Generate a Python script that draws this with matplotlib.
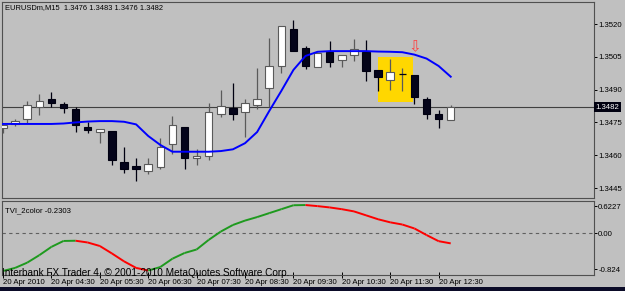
import matplotlib
matplotlib.use("Agg")
import matplotlib.pyplot as plt
from matplotlib.patches import Rectangle
import matplotlib.transforms as mtransforms
import numpy as np

# ---------------- data ----------------
opens = [1.34726, 1.34741, 1.34764, 1.34819, 1.34857, 1.34833, 1.34810, 1.34729, 1.34708, 1.34711,
         1.34570, 1.34551, 1.34528, 1.34548, 1.34650, 1.34728, 1.34586, 1.34596, 1.34788, 1.34817,
         1.34798, 1.34828, 1.34906, 1.35008, 1.35179, 1.35089, 1.35005, 1.35073, 1.35037, 1.35058,
         1.35073, 1.34988, 1.34944, 1.34970, 1.34967, 1.34857, 1.34788, 1.34760]
highs = [1.34738, 1.34767, 1.34849, 1.34879, 1.34889, 1.34842, 1.34819, 1.34753, 1.34720, 1.34711,
         1.34639, 1.34586, 1.34586, 1.34677, 1.34779, 1.34728, 1.34627, 1.34840, 1.34898, 1.34932,
         1.34856, 1.34997, 1.35136, 1.35191, 1.35218, 1.35099, 1.35069, 1.35122, 1.35057, 1.35130,
         1.35127, 1.34988, 1.35039, 1.35000, 1.34967, 1.34868, 1.34807, 1.34830]
lows = [1.34700, 1.34735, 1.34749, 1.34784, 1.34822, 1.34792, 1.34705, 1.34703, 1.34655, 1.34554,
        1.34520, 1.34482, 1.34513, 1.34536, 1.34604, 1.34536, 1.34555, 1.34578, 1.34773, 1.34761,
        1.34685, 1.34813, 1.34819, 1.34975, 1.35075, 1.34993, 1.35005, 1.35005, 1.35005, 1.35032,
        1.34941, 1.34894, 1.34898, 1.34895, 1.34834, 1.34764, 1.34723, 1.34760]
closes = [1.34738, 1.34755, 1.34830, 1.34849, 1.34837, 1.34817, 1.34738, 1.34715, 1.34720, 1.34578,
          1.34536, 1.34536, 1.34558, 1.34639, 1.34738, 1.34586, 1.34598, 1.34796, 1.34826, 1.34787,
          1.34837, 1.34856, 1.35008, 1.35191, 1.35075, 1.35008, 1.35069, 1.35028, 1.35057, 1.35086,
          1.34986, 1.34956, 1.34979, 1.34970, 1.34868, 1.34787, 1.34766, 1.34820]
ma_values = [1.34743, 1.34743, 1.34743, 1.34743, 1.34743, 1.34745, 1.34750, 1.34754, 1.34756, 1.34756,
             1.34753, 1.34741, 1.34688, 1.34647, 1.34616, 1.34616, 1.34616, 1.34616, 1.34619, 1.34627,
             1.34655, 1.34706, 1.34802, 1.34894, 1.34990, 1.35054, 1.35073, 1.35076, 1.35076, 1.35076,
             1.35076, 1.35074, 1.35073, 1.35071, 1.35060, 1.35042, 1.35008, 1.34959]
tvi_values = [-0.86, -0.79, -0.67, -0.50, -0.31, -0.175, -0.17, -0.21, -0.29, -0.46,
              -0.64, -0.79, -0.85, -0.77, -0.58, -0.45, -0.37, -0.15, 0.04, 0.19,
              0.29, 0.37, 0.46, 0.55, 0.64, 0.645, 0.62, 0.59, 0.55, 0.50,
              0.41, 0.32, 0.25, 0.20, 0.11, -0.04, -0.18, -0.2303]
time_tick_idx = [0, 4, 8, 12, 16, 20, 24, 28, 32, 36]
time_tick_labels = ["20 Apr 2010", "20 Apr 04:30", "20 Apr 05:30", "20 Apr 06:30", "20 Apr 07:30",
                    "20 Apr 08:30", "20 Apr 09:30", "20 Apr 10:30", "20 Apr 11:30", "20 Apr 12:30"]
price_ticks = [1.3445, 1.3460, 1.3475, 1.3490, 1.3505, 1.3520]
tvi_ticks = [-0.824, 0.0, 0.6227]
tvi_tick_labels = ["-0.824", "0.00", "0.6227"]
last_price = 1.3482
rect_idx = [31, 33.9]
rect_price = [1.34842, 1.35048]
arrow_idx = 34
arrow_price = 1.35096
title_text = "EURUSDm,M15  1.3476 1.3483 1.3476 1.3482"
tvi_label = "TVI_2color -0.2303"
copyright_text = "Interbank FX Trader 4, \u00a9 2001-2010 MetaQuotes Software Corp."

# ---------------- style ----------------
BG = "#C0C0C0"
FRAME = "#505050"
plt.rcParams['font.family'] = ['Liberation Sans', 'DejaVu Sans']

W, H = 625, 291
fig = plt.figure(figsize=(W / 100, H / 100), dpi=100, facecolor=BG)

def frac(x0, y0, x1, y1):
    return [x0 / W, 1 - y1 / H, (x1 - x0) / W, (y1 - y0) / H]

ax = fig.add_axes(frac(2, 2, 594, 198), facecolor=BG)
ax2 = fig.add_axes(frac(2, 201, 594, 275), facecolor=BG)

n = len(opens)
x = np.arange(n)
for a in (ax, ax2):
    a.set_xlim(-0.083, 48.84)
    for s in a.spines.values():
        s.set_color(FRAME)
        s.set_linewidth(0.8)

ax.set_ylim(1.344044, 1.353006)
ax2.set_ylim(-0.952, 0.737)

# yellow rectangle
ax.add_patch(Rectangle((rect_idx[0], rect_price[0]), rect_idx[1] - rect_idx[0],
                       rect_price[1] - rect_price[0], facecolor="#FFD700", edgecolor="none", zorder=1))

# current price line
ax.axhline(last_price, color="#404040", lw=0.8, zorder=2)

# candles
o = np.array(opens); c = np.array(closes); h = np.array(highs); l = np.array(lows)
bull = c >= o
wick_col = np.where(bull, "#5a5a5a", "#000010")
ax.vlines(x, l, h, colors=wick_col, lw=0.9, zorder=3)
bw = 0.62
body_low = np.minimum(o, c)
body_h = np.maximum(np.abs(c - o), 0.000012)
for i in range(n):
    if abs(c[i] - o[i]) < 1e-6:
        ax.hlines(o[i], i - bw / 2, i + bw / 2, colors="#000010", lw=0.9, zorder=4)
    elif bull[i]:
        ax.bar(i, body_h[i], bw, bottom=body_low[i], facecolor="white", edgecolor="#5a5a5a",
               linewidth=0.8, zorder=4)
    else:
        ax.bar(i, body_h[i], bw, bottom=body_low[i], facecolor="#04041a", edgecolor="#000010",
               linewidth=0.8, zorder=4)

# moving average
ax.plot(x, ma_values, color="#0000FF", lw=1.4, zorder=5)

# arrow
ax.text(arrow_idx, arrow_price, "\u21e9", color="#FF4040", fontsize=11, ha="center", va="center",
        family="DejaVu Sans", zorder=6)

# price axis
ax.set_xticks([])
ax.yaxis.tick_right()
ax.set_yticks(price_ticks)
ax.set_yticklabels([f"{p:.4f}" for p in price_ticks])
ax.tick_params(axis="y", length=2, width=0.7, color="black", pad=1, labelsize=5.6, labelcolor="black")

trans = mtransforms.blended_transform_factory(ax.transAxes, ax.transData)
ax.text(1.0025, last_price, f"{last_price:.4f}", transform=trans, color="white", fontsize=5.6,
        ha="left", va="center", bbox=dict(boxstyle="square,pad=0.15", facecolor="#000010", edgecolor="none"),
        zorder=10, clip_on=False)

ax.text(0.005, 0.972, title_text, transform=ax.transAxes, fontsize=5.4, ha="left", va="center")

# indicator
ax2.axhline(0, color="#606060", lw=0.8, ls=(0, (3, 3)), zorder=1)
tv = np.array(tvi_values)
for i in range(n - 1):
    col = "#1E9A1E" if tv[i + 1] >= tv[i] else "#FF0000"
    ax2.plot([i, i + 1], [tv[i], tv[i + 1]], color=col, lw=1.4, solid_capstyle="butt", zorder=3)

ax2.yaxis.tick_right()
ax2.set_yticks(tvi_ticks)
ax2.set_yticklabels(tvi_tick_labels)
ax2.tick_params(axis="y", length=2, width=0.7, color="black", pad=1, labelsize=5.6, labelcolor="black")
ax2.set_xticks(time_tick_idx)
ax2.set_xticklabels(time_tick_labels)
ax2.tick_params(axis="x", length=4, width=0.7, color="black", pad=1, labelsize=5.6, labelcolor="black",
                direction="inout")
for lab in ax2.get_xticklabels():
    lab.set_horizontalalignment("left")

ax2.text(0.005, 0.87, tvi_label, transform=ax2.transAxes, fontsize=5.6, ha="left", va="center")

fig.text(2 / W, 1 - 273 / H, copyright_text, fontsize=7.2, ha="left", va="center", color="black")

fig.patches.append(Rectangle((0, 0), 1, 4 / H, transform=fig.transFigure, facecolor="#0b0b28",
                             edgecolor="none"))

fig.savefig("out.png", dpi=100, facecolor=BG)
